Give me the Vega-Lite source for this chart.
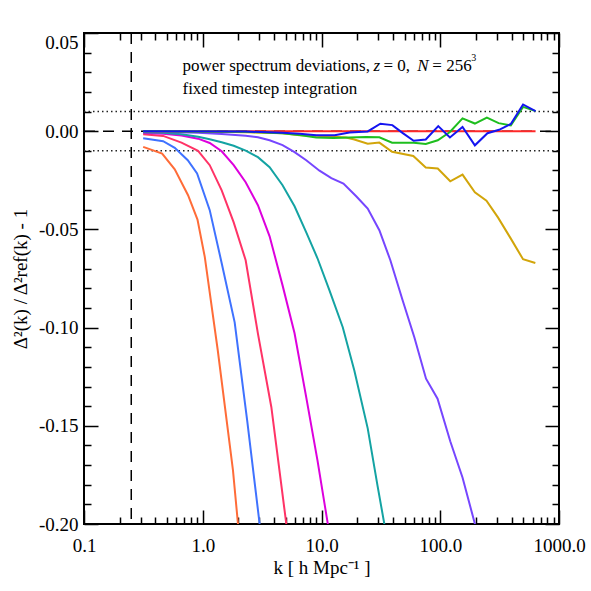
{
  "$schema": "https://vega.github.io/schema/vega-lite/v6.json",
  "width": 475,
  "height": 491,
  "autosize": {"type": "none"},
  "padding": {"left": 84, "top": 33, "right": 32, "bottom": 67},
  "background": "white",
  "config": {
    "view": {"stroke": "black", "strokeWidth": 2},
    "axis": {"domain": false, "grid": false, "tickColor": "black", "tickWidth": 1.5, "labelFont": "Liberation Serif", "labelFontSize": 19, "labelColor": "black", "titleFont": "Liberation Serif", "titleFontSize": 19, "titleColor": "black", "titleFontWeight": "normal", "labelFlush": false, "labelOverlap": false}
  },
  "resolve": {"axis": {"x": "independent", "y": "independent"}},
  "layer": [
    {
      "data": {"values": [{"level": 0.01}, {"level": -0.01}]},
      "mark": {"type": "rule", "strokeDash": [1.5, 3], "strokeWidth": 1.5, "color": "#222222"},
      "encoding": {
        "x": {"datum": 0.1, "type": "quantitative", "scale": {"type": "log", "domain": [0.1, 1000], "nice": false},
              "axis": {"orient": "bottom", "values": [0.2,0.3,0.4,0.5,0.6,0.7,0.8,0.9,2,3,4,5,6,7,8,9,20,30,40,50,60,70,80,90,200,300,400,500,600,700,800,900], "tickSize": -7, "labels": false, "title": null}},
        "x2": {"datum": 1000},
        "y": {"field": "level", "type": "quantitative", "scale": {"domain": [-0.2, 0.05], "nice": false, "zero": false},
              "axis": {"orient": "left", "values": [0.04,0.03,0.02,0.01,-0.01,-0.02,-0.03,-0.04,-0.06,-0.07,-0.08,-0.09,-0.11,-0.12,-0.13,-0.14,-0.16,-0.17,-0.18,-0.19], "tickSize": -7, "labels": false, "title": null}}
      }
    },
    {
      "data": {"values": [{}]},
      "mark": {"type": "rule", "strokeDash": [11, 8], "strokeWidth": 1.5, "color": "black"},
      "encoding": {
        "x": {"datum": 0.1, "type": "quantitative", "scale": {"type": "log", "domain": [0.1, 1000], "nice": false},
              "axis": {"orient": "top", "values": [0.1, 1, 10, 100, 1000], "tickSize": -14, "labels": false, "title": null}},
        "x2": {"datum": 1000},
        "y": {"datum": 0, "type": "quantitative", "scale": {"domain": [-0.2, 0.05], "nice": false, "zero": false},
              "axis": {"orient": "right", "values": [-0.2, -0.15, -0.1, -0.05, 0, 0.05], "tickSize": -14, "labels": false, "title": null}}
      }
    },
    {
      "data": {"values": [{}]},
      "mark": {"type": "rule", "strokeDash": [11, 8], "strokeWidth": 1.5, "color": "black"},
      "encoding": {
        "x": {"datum": 0.25, "type": "quantitative", "scale": {"type": "log", "domain": [0.1, 1000], "nice": false},
              "axis": {"orient": "top", "values": [0.2,0.3,0.4,0.5,0.6,0.7,0.8,0.9,2,3,4,5,6,7,8,9,20,30,40,50,60,70,80,90,200,300,400,500,600,700,800,900], "tickSize": -7, "labels": false, "title": null}},
        "y": {"datum": 0.05, "type": "quantitative", "scale": {"domain": [-0.2, 0.05], "nice": false, "zero": false},
              "axis": {"orient": "right", "values": [0.04,0.03,0.02,0.01,-0.01,-0.02,-0.03,-0.04,-0.06,-0.07,-0.08,-0.09,-0.11,-0.12,-0.13,-0.14,-0.16,-0.17,-0.18,-0.19], "tickSize": -7, "labels": false, "title": null}},
        "y2": {"datum": -0.2}
      }
    },
    {
      "data": {"values": [
        {"s": "red", "k": 0.315, "v": 0}, {"s": "red", "k": 634.6, "v": 0},
        {"s": "orange", "k": 0.315, "v": -0.008}, {"s": "orange", "k": 0.455, "v": -0.0114}, {"s": "orange", "k": 0.581, "v": -0.0194}, {"s": "orange", "k": 0.752, "v": -0.0326}, {"s": "orange", "k": 0.903, "v": -0.045}, {"s": "orange", "k": 1.04, "v": -0.064}, {"s": "orange", "k": 1.337, "v": -0.1114}, {"s": "orange", "k": 1.797, "v": -0.1727}, {"s": "orange", "k": 2.21, "v": -0.2308},
        {"s": "lightblue", "k": 0.315, "v": -0.0036}, {"s": "lightblue", "k": 0.464, "v": -0.0051}, {"s": "lightblue", "k": 0.581, "v": -0.0085}, {"s": "lightblue", "k": 0.748, "v": -0.0148}, {"s": "lightblue", "k": 0.896, "v": -0.0215}, {"s": "lightblue", "k": 1.145, "v": -0.0402}, {"s": "lightblue", "k": 1.444, "v": -0.0672}, {"s": "lightblue", "k": 1.857, "v": -0.0973}, {"s": "lightblue", "k": 2.366, "v": -0.1472}, {"s": "lightblue", "k": 3.013, "v": -0.2}, {"s": "lightblue", "k": 3.52, "v": -0.2287},
        {"s": "pink", "k": 0.315, "v": -0.0015}, {"s": "pink", "k": 0.464, "v": -0.0024}, {"s": "pink", "k": 0.662, "v": -0.0058}, {"s": "pink", "k": 0.913, "v": -0.01}, {"s": "pink", "k": 1.145, "v": -0.0173}, {"s": "pink", "k": 1.444, "v": -0.0301}, {"s": "pink", "k": 1.822, "v": -0.0464}, {"s": "pink", "k": 2.298, "v": -0.0657}, {"s": "pink", "k": 2.915, "v": -0.1031}, {"s": "pink", "k": 3.78, "v": -0.1404}, {"s": "pink", "k": 5.05, "v": -0.1998}, {"s": "pink", "k": 5.93, "v": -0.2338},
        {"s": "magenta", "k": 0.315, "v": -0.0009}, {"s": "magenta", "k": 0.464, "v": -0.0013}, {"s": "magenta", "k": 0.662, "v": -0.0022}, {"s": "magenta", "k": 0.913, "v": -0.0038}, {"s": "magenta", "k": 1.145, "v": -0.006}, {"s": "magenta", "k": 1.444, "v": -0.0102}, {"s": "magenta", "k": 1.822, "v": -0.0173}, {"s": "magenta", "k": 2.298, "v": -0.026}, {"s": "magenta", "k": 2.915, "v": -0.0377}, {"s": "magenta", "k": 3.656, "v": -0.0535}, {"s": "magenta", "k": 4.7, "v": -0.0785}, {"s": "magenta", "k": 5.93, "v": -0.1029}, {"s": "magenta", "k": 7.44, "v": -0.1355}, {"s": "magenta", "k": 9.25, "v": -0.1676}, {"s": "magenta", "k": 11.3, "v": -0.1999}, {"s": "magenta", "k": 13.1, "v": -0.2226},
        {"s": "teal", "k": 0.315, "v": -0.0005}, {"s": "teal", "k": 0.464, "v": -0.0008}, {"s": "teal", "k": 0.662, "v": -0.0015}, {"s": "teal", "k": 0.913, "v": -0.0028}, {"s": "teal", "k": 1.145, "v": -0.0041}, {"s": "teal", "k": 1.444, "v": -0.0056}, {"s": "teal", "k": 1.822, "v": -0.0074}, {"s": "teal", "k": 2.298, "v": -0.0099}, {"s": "teal", "k": 2.915, "v": -0.0132}, {"s": "teal", "k": 3.656, "v": -0.0183}, {"s": "teal", "k": 4.7, "v": -0.0275}, {"s": "teal", "k": 5.93, "v": -0.0382}, {"s": "teal", "k": 7.44, "v": -0.0515}, {"s": "teal", "k": 9.25, "v": -0.0647}, {"s": "teal", "k": 11.67, "v": -0.081}, {"s": "teal", "k": 15.1, "v": -0.0998}, {"s": "teal", "k": 18.9, "v": -0.1218}, {"s": "teal", "k": 24.5, "v": -0.1513}, {"s": "teal", "k": 29.6, "v": -0.1803}, {"s": "teal", "k": 33.8, "v": -0.1999}, {"s": "teal", "k": 38.7, "v": -0.2236},
        {"s": "purple", "k": 0.315, "v": -0.0002}, {"s": "purple", "k": 0.913, "v": -0.0008}, {"s": "purple", "k": 1.444, "v": -0.0014}, {"s": "purple", "k": 2.298, "v": -0.0023}, {"s": "purple", "k": 2.915, "v": -0.0031}, {"s": "purple", "k": 3.656, "v": -0.0046}, {"s": "purple", "k": 4.7, "v": -0.0071}, {"s": "purple", "k": 5.93, "v": -0.0107}, {"s": "purple", "k": 7.44, "v": -0.0148}, {"s": "purple", "k": 9.62, "v": -0.0201}, {"s": "purple", "k": 12.1, "v": -0.0239}, {"s": "purple", "k": 15.3, "v": -0.0267}, {"s": "purple", "k": 19.6, "v": -0.0331}, {"s": "purple", "k": 24.5, "v": -0.0394}, {"s": "purple", "k": 30.7, "v": -0.0504}, {"s": "purple", "k": 38.0, "v": -0.0657}, {"s": "purple", "k": 48.2, "v": -0.0861}, {"s": "purple", "k": 60.5, "v": -0.1049}, {"s": "purple", "k": 75.9, "v": -0.126}, {"s": "purple", "k": 94.9, "v": -0.1362}, {"s": "purple", "k": 121.4, "v": -0.1579}, {"s": "purple", "k": 154, "v": -0.1763}, {"s": "purple", "k": 195.7, "v": -0.1999}, {"s": "purple", "k": 238.8, "v": -0.2185},
        {"s": "gold", "k": 0.315, "v": 0}, {"s": "gold", "k": 0.913, "v": -0.0002}, {"s": "gold", "k": 2.298, "v": -0.0005}, {"s": "gold", "k": 4.7, "v": -0.001}, {"s": "gold", "k": 6.53, "v": -0.002}, {"s": "gold", "k": 9.03, "v": -0.0023}, {"s": "gold", "k": 12.6, "v": -0.0028}, {"s": "gold", "k": 16.1, "v": -0.0032}, {"s": "gold", "k": 18.9, "v": -0.0042}, {"s": "gold", "k": 24.5, "v": -0.0064}, {"s": "gold", "k": 30.7, "v": -0.0058}, {"s": "gold", "k": 39.3, "v": -0.0105}, {"s": "gold", "k": 59.3, "v": -0.0126}, {"s": "gold", "k": 75.5, "v": -0.0185}, {"s": "gold", "k": 95.3, "v": -0.019}, {"s": "gold", "k": 121.4, "v": -0.0255}, {"s": "gold", "k": 154, "v": -0.0221}, {"s": "gold", "k": 195.7, "v": -0.0311}, {"s": "gold", "k": 245, "v": -0.0354}, {"s": "gold", "k": 307, "v": -0.044}, {"s": "gold", "k": 393, "v": -0.0547}, {"s": "gold", "k": 498, "v": -0.0652}, {"s": "gold", "k": 632, "v": -0.0671},
        {"s": "green", "k": 0.315, "v": 0}, {"s": "green", "k": 2.298, "v": -0.0003}, {"s": "green", "k": 4.7, "v": -0.001}, {"s": "green", "k": 6.53, "v": -0.002}, {"s": "green", "k": 9.03, "v": -0.0032}, {"s": "green", "k": 12.6, "v": -0.0034}, {"s": "green", "k": 17.2, "v": -0.0032}, {"s": "green", "k": 23.7, "v": -0.0029}, {"s": "green", "k": 30.7, "v": -0.0031}, {"s": "green", "k": 39.3, "v": -0.0059}, {"s": "green", "k": 59.7, "v": -0.0059}, {"s": "green", "k": 75.5, "v": -0.0065}, {"s": "green", "k": 95.3, "v": -0.0046}, {"s": "green", "k": 120.6, "v": -0.0004}, {"s": "green", "k": 154, "v": 0.0065}, {"s": "green", "k": 195.7, "v": 0.0039}, {"s": "green", "k": 247, "v": 0.0069}, {"s": "green", "k": 310, "v": 0.0041}, {"s": "green", "k": 393, "v": 0.0029}, {"s": "green", "k": 498, "v": 0.0124}, {"s": "green", "k": 634.6, "v": 0.0102},
        {"s": "blue", "k": 0.315, "v": 0}, {"s": "blue", "k": 2.298, "v": -0.0002}, {"s": "blue", "k": 4.7, "v": -0.0008}, {"s": "blue", "k": 6.53, "v": -0.0013}, {"s": "blue", "k": 9.03, "v": -0.002}, {"s": "blue", "k": 12.9, "v": -0.0021}, {"s": "blue", "k": 17.2, "v": -0.0007}, {"s": "blue", "k": 24.5, "v": -0.0001}, {"s": "blue", "k": 31.3, "v": 0.0038}, {"s": "blue", "k": 39.5, "v": 0.0031}, {"s": "blue", "k": 48.4, "v": -0.001}, {"s": "blue", "k": 59.7, "v": -0.0049}, {"s": "blue", "k": 75.5, "v": -0.0042}, {"s": "blue", "k": 96.2, "v": 0.0026}, {"s": "blue", "k": 120.6, "v": -0.0032}, {"s": "blue", "k": 154, "v": 0.0022}, {"s": "blue", "k": 195.7, "v": -0.0072}, {"s": "blue", "k": 249.8, "v": -0.001}, {"s": "blue", "k": 313, "v": 0.0007}, {"s": "blue", "k": 393, "v": 0.0037}, {"s": "blue", "k": 498, "v": 0.0136}, {"s": "blue", "k": 634.6, "v": 0.0102}
      ]},
      "mark": {"type": "line", "strokeWidth": 2, "clip": true},
      "encoding": {
        "x": {"field": "k", "type": "quantitative", "scale": {"type": "log", "domain": [0.1, 1000], "nice": false},
              "axis": {"orient": "bottom", "values": [0.1, 1, 10, 100, 1000], "format": ".1f", "tickSize": -14, "labelPadding": 26, "title": "k [ h Mpc⁻¹ ]", "titlePadding": 3}},
        "y": {"field": "v", "type": "quantitative", "scale": {"domain": [-0.2, 0.05], "nice": false, "zero": false},
              "axis": {"orient": "left", "values": [-0.2, -0.15, -0.1, -0.05, 0, 0.05], "format": ".2f", "labelExpr": "replace(datum.label, '\u2212', '-')", "tickSize": -14, "labelPadding": 20, "labelBaseline": {"condition": {"test": "datum.value == 0.05", "value": "top"}, "value": "middle"}, "title": "Δ²(k) / Δ²ref(k) - 1", "titlePadding": 8}},
        "color": {"field": "s", "type": "nominal", "legend": null,
                  "scale": {"domain": ["red", "orange", "lightblue", "pink", "magenta", "teal", "purple", "gold", "green", "blue"],
                            "range": ["#FF2828", "#FF6C38", "#3F72FF", "#FF3366", "#DD00DD", "#14A3A3", "#7646FF", "#D2A50A", "#1EBE1E", "#1414F0"]}}
      }
    },
    {
      "data": {"values": [{}]},
      "mark": {"type": "text", "text": "power spectrum deviations,", "font": "Liberation Serif", "fontSize": 17, "align": "left", "baseline": "alphabetic", "color": "black"},
      "encoding": {"x": {"datum": 0.675, "type": "quantitative", "axis": null}, "y": {"datum": 0.0306, "type": "quantitative", "axis": null}}
    },
    {
      "data": {"values": [{}]},
      "mark": {"type": "text", "text": "z", "font": "Liberation Serif", "fontStyle": "italic", "fontSize": 17, "align": "left", "baseline": "alphabetic", "color": "black"},
      "encoding": {"x": {"datum": 27.4, "type": "quantitative", "axis": null}, "y": {"datum": 0.0306, "type": "quantitative", "axis": null}}
    },
    {
      "data": {"values": [{}]},
      "mark": {"type": "text", "text": "= 0,", "font": "Liberation Serif", "fontSize": 17, "align": "left", "baseline": "alphabetic", "color": "black"},
      "encoding": {"x": {"datum": 33.2, "type": "quantitative", "axis": null}, "y": {"datum": 0.0306, "type": "quantitative", "axis": null}}
    },
    {
      "data": {"values": [{}]},
      "mark": {"type": "text", "text": "N", "font": "Liberation Serif", "fontStyle": "italic", "fontSize": 17, "align": "left", "baseline": "alphabetic", "color": "black"},
      "encoding": {"x": {"datum": 64.1, "type": "quantitative", "axis": null}, "y": {"datum": 0.0306, "type": "quantitative", "axis": null}}
    },
    {
      "data": {"values": [{}]},
      "mark": {"type": "text", "text": "= 256", "font": "Liberation Serif", "fontSize": 17, "align": "left", "baseline": "alphabetic", "color": "black"},
      "encoding": {"x": {"datum": 85.7, "type": "quantitative", "axis": null}, "y": {"datum": 0.0306, "type": "quantitative", "axis": null}}
    },
    {
      "data": {"values": [{}]},
      "mark": {"type": "text", "text": "3", "font": "Liberation Serif", "fontSize": 10, "align": "left", "baseline": "alphabetic", "color": "black"},
      "encoding": {"x": {"datum": 182.2, "type": "quantitative", "axis": null}, "y": {"datum": 0.0357, "type": "quantitative", "axis": null}}
    },
    {
      "data": {"values": [{}]},
      "mark": {"type": "text", "text": "fixed timestep integration", "font": "Liberation Serif", "fontSize": 17, "align": "left", "baseline": "alphabetic", "color": "black"},
      "encoding": {"x": {"datum": 0.675, "type": "quantitative", "axis": null}, "y": {"datum": 0.01885, "type": "quantitative", "axis": null}}
    }
  ]
}
